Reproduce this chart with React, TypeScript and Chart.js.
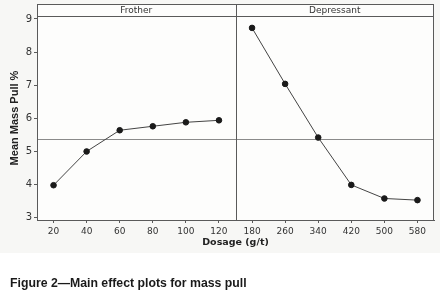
import React, { useEffect, useRef } from "react";
import { Chart, registerables } from "chart.js";

Chart.register(...registerables);

const frotherDosage = ["20", "40", "60", "80", "100", "120"];
const depressantDosage = ["180", "260", "340", "420", "500", "580"];
const frotherPull = [3.98, 5.0, 5.64, 5.76, 5.88, 5.94];
const depressantPull = [8.73, 7.04, 5.42, 3.99, 3.58, 3.53];
const panelLabels = ["Frother", "Depressant"];
const yTicks = [3, 4, 5, 6, 7, 8, 9];
const overallMean = 5.37;
const yTitle = "Mean Mass Pull %";
const xTitle = "Dosage (g/t)";
const caption = "Figure 2\u2014Main effect plots for mass pull";

const FRAME = "#5a5a5a";
const TICKFONT = "'DejaVu Sans', sans-serif";

const panelPlugin = {
  id: "panels",
  beforeDraw(chart: any) {
    const { ctx, chartArea } = chart;
    ctx.save();
    ctx.fillStyle = "#f7f7f5";
    ctx.fillRect(0, 0, chart.width, 253);
    ctx.fillStyle = "#fdfdfc";
    ctx.fillRect(chartArea.left, 4, chartArea.right - chartArea.left, chartArea.bottom - 4);
    ctx.restore();
  },
  beforeDatasetsDraw(chart: any) {
    const { ctx, chartArea, scales } = chart;
    const y = scales.y.getPixelForValue(overallMean);
    ctx.save();
    ctx.strokeStyle = "#8a8a8a";
    ctx.lineWidth = 1;
    ctx.beginPath();
    ctx.moveTo(chartArea.left, Math.round(y) + 0.5);
    ctx.lineTo(chartArea.right, Math.round(y) + 0.5);
    ctx.stroke();
    ctx.restore();
  },
  afterDraw(chart: any) {
    const { ctx, chartArea } = chart;
    const x = chart.scales.x;
    const n = frotherDosage.length;
    const divX = (x.getPixelForValue(n - 1) + x.getPixelForValue(n)) / 2;
    const top = 4;
    ctx.save();
    ctx.strokeStyle = FRAME;
    ctx.lineWidth = 1;
    const hl = (yy: number) => {
      ctx.beginPath();
      ctx.moveTo(chartArea.left, Math.round(yy) + 0.5);
      ctx.lineTo(chartArea.right, Math.round(yy) + 0.5);
      ctx.stroke();
    };
    const vl = (xx: number) => {
      ctx.beginPath();
      ctx.moveTo(Math.round(xx) + 0.5, top);
      ctx.lineTo(Math.round(xx) + 0.5, chartArea.bottom);
      ctx.stroke();
    };
    hl(top);
    hl(chartArea.top);
    vl(chartArea.left);
    vl(chartArea.right - 1);
    vl(divX);
    ctx.fillStyle = "#333";
    ctx.font = "9px " + TICKFONT;
    ctx.textAlign = "center";
    ctx.textBaseline = "middle";
    const mid = (top + chartArea.top) / 2 + 0.5;
    ctx.fillText(panelLabels[0], (chartArea.left + divX) / 2, mid);
    ctx.fillText(panelLabels[1], (divX + chartArea.right) / 2, mid);
    ctx.restore();
  },
};

export default function App() {
  const ref = useRef<HTMLCanvasElement | null>(null);
  useEffect(() => {
    if (!ref.current) return;
    const labels = frotherDosage.concat(depressantDosage);
    const ds = (xs: string[], ys: number[]) => xs.map((d, i) => ({ x: d, y: ys[i] }));
    const common = {
      borderColor: "#444",
      borderWidth: 1,
      pointBackgroundColor: "#1a1a1a",
      pointBorderColor: "#1a1a1a",
      pointRadius: 2.8,
      pointStyle: "circle",
      tension: 0,
    };
    const chart = new Chart(ref.current, {
      type: "line",
      data: {
        labels,
        datasets: [
          { label: panelLabels[0], data: ds(frotherDosage, frotherPull), ...common },
          { label: panelLabels[1], data: ds(depressantDosage, depressantPull), ...common },
        ],
      },
      options: {
        animation: false,
        responsive: false,
        devicePixelRatio: 1,
        layout: { padding: { top: 16, right: 6, left: 0, bottom: 42 } },
        plugins: { legend: { display: false }, tooltip: { enabled: false } },
        scales: {
          x: {
            type: "category",
            offset: true,
            grid: { display: true, drawOnChartArea: false, drawTicks: true, tickLength: 3, color: FRAME },
            border: { display: true, color: FRAME },
            ticks: { color: "#333", font: { size: 9, family: TICKFONT }, padding: 3, autoSkip: false, maxRotation: 0 },
            title: {
              display: true,
              text: xTitle,
              color: "#222",
              font: { size: 9.5, family: TICKFONT, weight: "bold" },
              padding: { top: 0, bottom: 2 },
            },
            afterFit: (s: any) => {
              s.height = 30;
            },
          },
          y: {
            min: 2.93,
            max: 9.09,
            grid: { display: true, drawOnChartArea: false, drawTicks: true, tickLength: 3, color: FRAME },
            border: { display: true, color: FRAME },
            ticks: { color: "#333", font: { size: 10, family: TICKFONT }, padding: 2 },
            afterBuildTicks: (s: any) => {
              s.ticks = yTicks.map((v) => ({ value: v }));
            },
            title: {
              display: true,
              text: yTitle,
              color: "#222",
              font: { size: 11, family: "'Liberation Sans', Arial, sans-serif", weight: "bold" },
              padding: { top: 8, bottom: 0 },
            },
            afterFit: (s: any) => {
              s.width = 37;
            },
          },
        },
      },
      plugins: [panelPlugin],
    });
    return () => chart.destroy();
  }, []);
  return (
    <div style={{ position: "absolute", left: 0, top: 0, width: 440, height: 292, background: "#fff" }}>
      <canvas ref={ref} width={440} height={292} style={{ position: "absolute", left: 0, top: 0, width: 440, height: 292 }} />
      <div
        style={{
          position: "absolute",
          left: 10,
          top: 275,
          fontFamily: "'Liberation Sans', Arial, sans-serif",
          fontWeight: "bold",
          fontSize: 13,
          color: "#1a1a1a",
          whiteSpace: "nowrap",
          lineHeight: "16px",
          transform: "scaleX(0.944)",
          transformOrigin: "0 0",
        }}
      >
        {caption}
      </div>
    </div>
  );
}
